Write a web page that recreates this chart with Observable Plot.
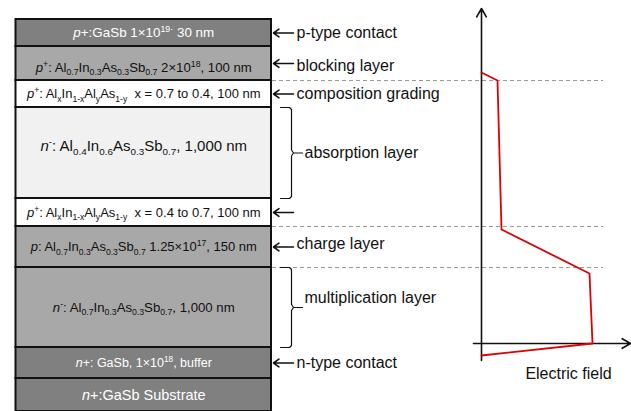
<!DOCTYPE html>
<html>
<head>
<meta charset="utf-8">
<script src="https://cdn.jsdelivr.net/npm/d3@7"></script>
<script src="https://cdn.jsdelivr.net/npm/@observablehq/plot@0.6"></script>
<style>
  html, body { margin: 0; padding: 0; background: #fff; overflow: hidden; }
  #figure { position: relative; width: 631px; height: 411px; }
  #figure svg { position: absolute; left: 0; top: 0; }
</style>
</head>
<body>
<div id="figure"></div>
<script>
// ---- Layer stack, surface (top) to substrate (bottom) ----
// markup: *italic*, _{subscript}, ^{superscript}
const layerLabels = [
  "*p*+:GaSb 1×10^{19·} 30 nm",
  "*p*^{+}: Al_{0.7}In_{0.3}As_{0.3}Sb_{0.7} 2×10^{18}, 100 nm",
  "*p*^{+}: Al_{x}In_{1-x}Al_{y}As_{1-y}  x = 0.7 to 0.4, 100 nm",
  "*n*^{-}: Al_{0.4}In_{0.6}As_{0.3}Sb_{0.7}, 1,000 nm",
  "*p*^{+}: Al_{x}In_{1-x}Al_{y}As_{1-y}  x = 0.4 to 0.7, 100 nm",
  "*p*: Al_{0.7}In_{0.3}As_{0.3}Sb_{0.7} 1.25×10^{17}, 150 nm",
  "*n*^{-}: Al_{0.7}In_{0.3}As_{0.3}Sb_{0.7}, 1,000 nm",
  "*n*+: GaSb, 1×10^{18}, buffer",
  "*n*+:GaSb Substrate"
];
// schematic drawn thickness of each layer (not to scale)
const layerSpan = [2.7, 3.4, 2.7, 9.1, 2.8, 4.1, 8.0, 3.1, 3.3];
const layerMaterial = ["GaSb", "AlInAsSb-0.7", "graded", "AlInAsSb-0.4", "graded",
                       "AlInAsSb-0.7", "AlInAsSb-0.7", "GaSb", "GaSb"];

// ---- Functional annotations on the right of the stack ----
const annotationText  = ["p-type contact", "blocking layer", "composition grading", "absorption layer",
                         "", "charge layer", "multiplication layer", "n-type contact"];
const annotationLayer = [0, 1, 2, 3, 4, 5, 6, 7];
const annotationKind  = ["arrow", "arrow", "arrow", "brace", "arrow", "arrow", "brace", "arrow"];

// layer boundaries marked across to the field profile (below these layers)
const markedBoundaryBelow = [1, 4, 5];

// ---- Electric-field profile: depth (stack units) and magnitude (arb. units) ----
const fieldDepth = [5.3, 6.1, 21.0, 25.4, 32.4, 33.6];
const fieldValue = [0, 1.6, 2.0, 10.8, 11.1, 0];
const fieldAxisDepth = 32.4;  // depth at which the field axis is drawn

// ---------------------------------------------------------------
let acc = 0;
const layers = layerLabels.map((label, i) => {
  const top = acc; acc += layerSpan[i];
  return {i, label, material: layerMaterial[i], top, bottom: acc, mid: (top + acc) / 2};
});
const total = acc;

const TOP = 19, UNIT = 10;                 // stack top (px) and px per thickness unit
const STACK_LEFT = 15.5, STACK_RIGHT = 271;
const PX = STACK_RIGHT - STACK_LEFT;
const right = d => 1 + d / PX;            // d px to the right of the stack edge
const yScale = {axis: null, domain: [0, total], range: [TOP, TOP + total * UNIT]};
const FONT = "'Liberation Sans', Arial, Helvetica, sans-serif";

const labelSize = {0: 13.4, 1: 13.2, 2: 13, 3: 15, 4: 13, 5: 13, 6: 13.2, 7: 12.5, 8: 14.5};
const labelShift = {1: 0.4, 3: -0.7};
const layerText = layers.map(d => ({...d, ty: d.mid + (labelShift[d.i] || 0)}));

const annotations = annotationText.map((text, k) => {
  const L = layers[annotationLayer[k]];
  return {text, kind: annotationKind[k], top: L.top, bottom: L.bottom, mid: L.mid};
});
const annotShift = {"blocking layer": 0.2, "charge layer": -0.3, "multiplication layer": -1.0};

function brace(a) {
  const m = a.mid;
  return [
    [9, a.top], [18, a.top], [20, a.top + 0.2], [20, m - 0.3], [22, m], [31, m],
    [22, m], [20, m + 0.3], [20, a.bottom - 0.2], [18, a.bottom], [9, a.bottom]
  ].map(([dx, y]) => ({x: right(dx), y, id: a.text}));
}
const bracePts = annotations.filter(a => a.kind === "brace").flatMap(brace);

const stackPlot = Plot.plot({
  width: 631, height: 411,
  margin: 0,
  style: {background: "transparent", fontFamily: FONT},
  x: {axis: null, domain: [0, 1], range: [STACK_LEFT, STACK_RIGHT]},
  y: yScale,
  color: {
    domain: ["GaSb", "AlInAsSb-0.7", "graded", "AlInAsSb-0.4"],
    range: ["#808080", "#a8a8a8", "#ffffff", "#f1f1f1"]
  },
  marks: [
    Plot.ruleY(markedBoundaryBelow.map(i => layers[i].bottom), {
      x1: right(1), x2: right(332), stroke: "#9a9a9a", strokeWidth: 1, strokeDasharray: "4,3"
    }),
    Plot.rect(layers, {x1: 0, x2: 1, y1: "top", y2: "bottom", fill: "material",
                       stroke: "#111", strokeWidth: 2}),
    Plot.text(layerText.filter(d => d.material === "GaSb"), {
      x: 0.5, y: "ty", text: "label", fill: "white", fontSize: d => labelSize[d.i]
    }),
    Plot.text(layerText.filter(d => d.material !== "GaSb"), {
      x: 0.5, y: "ty", text: "label", fill: "#111", fontSize: d => labelSize[d.i]
    }),
    Plot.arrow(annotations.filter(a => a.kind === "arrow"), {
      x1: right(22), x2: right(2), y1: "mid", y2: "mid",
      stroke: "#111", strokeWidth: 1.6, headLength: 7, headAngle: 70
    }),
    Plot.line(bracePts, {x: "x", y: "y", z: "id", stroke: "#111", strokeWidth: 1.2}),
    Plot.text(annotations.filter(a => a.kind === "arrow" && a.text), {
      x: right(25), y: d => d.mid + (annotShift[d.text] || 0), text: "text",
      textAnchor: "start", fontSize: 16, fill: "#111"
    }),
    Plot.text(annotations.filter(a => a.kind === "brace"), {
      x: right(33), y: d => d.mid + (annotShift[d.text] || 0), text: "text",
      textAnchor: "start", fontSize: 16, fill: "#111"
    })
  ]
});

const field = fieldDepth.map((y, k) => ({y, x: fieldValue[k]}));

const fieldPlot = Plot.plot({
  width: 631, height: 411,
  margin: 0,
  style: {background: "transparent", fontFamily: FONT},
  x: {axis: null, domain: [0, 12], range: [481, 601]},
  y: yScale,
  marks: [
    Plot.arrow([{}], {x1: 0, x2: 0, y1: 34.1, y2: -1.1, stroke: "#111", strokeWidth: 1.6,
                      headLength: 9, headAngle: 60}),
    Plot.arrow([{}], {x1: -0.8, x2: 14.9, y1: fieldAxisDepth, y2: fieldAxisDepth,
                      stroke: "#111", strokeWidth: 1.6, headLength: 9, headAngle: 60}),
    Plot.line(field, {x: "x", y: "y", stroke: "#e00000", strokeWidth: 1.8}),
    Plot.text(["Electric field"], {x: 8.7, y: 35.4, text: d => d, fontSize: 16, fill: "#111"})
  ]
});

const fig = document.getElementById("figure");
fig.append(stackPlot, fieldPlot);

// Turn the light markup in layer labels into italic / sub / superscript tspans
function richText(svg) {
  d3.select(svg).selectAll("text").each(function () {
    const s = this.textContent;
    if (!/[_^*]/.test(s)) return;
    const fs = parseFloat(getComputedStyle(this).fontSize);
    const re = /_\{([^}]*)\}|\^\{([^}]*)\}|\*([^*]*)\*/g;
    const parts = [];
    let last = 0, m;
    while ((m = re.exec(s))) {
      if (m.index > last) parts.push({t: s.slice(last, m.index), k: "n"});
      if (m[1] != null) parts.push({t: m[1], k: "sub"});
      else if (m[2] != null) parts.push({t: m[2], k: "sup"});
      else parts.push({t: m[3], k: "it"});
      last = re.lastIndex;
    }
    if (last < s.length) parts.push({t: s.slice(last), k: "n"});
    const el = d3.select(this);
    el.text(null);
    let shift = 0;
    for (const p of parts) {
      const target = p.k === "sub" ? 0.28 * fs : p.k === "sup" ? -0.38 * fs : 0;
      const ts = el.append("tspan").text(p.t);
      if (target !== shift) ts.attr("dy", target - shift);
      shift = target;
      if (p.k === "sub" || p.k === "sup") ts.attr("font-size", 0.66 * fs);
      if (p.k === "it") ts.attr("font-style", "italic");
    }
  });
}
richText(stackPlot);
</script>
</body>
</html>
